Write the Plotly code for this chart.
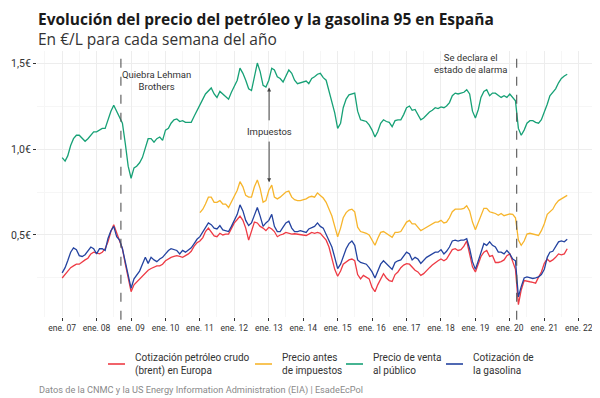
import pandas as pd
import plotly.graph_objects as go

# ---------------- data (monthly readings, EUR per litre) ----------------
start_all = "2007-01-01"
start_pretax = "2011-01-01"

venta_publico = [
    0.95, 0.93, 0.96, 1.02, 1.06, 1.08, 1.08, 1.06, 1.045, 1.06, 1.08, 1.10,
    1.10, 1.11, 1.12, 1.12, 1.17, 1.22, 1.255, 1.22, 1.18, 1.15, 1.03, 0.90,
    0.83, 0.89, 0.90, 0.92, 0.95, 1.00, 1.06, 1.06, 1.04, 1.06, 1.07, 1.05,
    1.11, 1.12, 1.15, 1.17, 1.175, 1.16, 1.165, 1.155, 1.155, 1.155, 1.19, 1.22,
    1.25, 1.29, 1.32, 1.34, 1.355, 1.32, 1.30, 1.335, 1.32, 1.31, 1.29, 1.33,
    1.37, 1.40, 1.47, 1.44, 1.40, 1.35, 1.34, 1.43, 1.50, 1.45, 1.37, 1.36,
    1.40, 1.47, 1.46, 1.42, 1.41, 1.39, 1.42, 1.46, 1.44, 1.40, 1.38, 1.385,
    1.39, 1.395, 1.38, 1.41, 1.42, 1.435, 1.44, 1.415, 1.40, 1.34, 1.28, 1.21,
    1.12, 1.15, 1.24, 1.29, 1.315, 1.32, 1.325, 1.22, 1.17, 1.165, 1.16, 1.14,
    1.11, 1.07, 1.10, 1.15, 1.17, 1.16, 1.155, 1.13, 1.165, 1.17, 1.17, 1.20,
    1.24, 1.25, 1.225, 1.23, 1.20, 1.17, 1.18, 1.20, 1.215, 1.225, 1.24, 1.235,
    1.245, 1.24, 1.25, 1.27, 1.31, 1.325, 1.32, 1.325, 1.33, 1.345, 1.32, 1.22,
    1.18, 1.23, 1.30, 1.335, 1.345, 1.31, 1.325, 1.325, 1.31, 1.30, 1.31, 1.30,
    1.32, 1.30, 1.28, 1.12, 1.08, 1.11, 1.15, 1.165, 1.165, 1.155, 1.15, 1.17,
    1.21, 1.26, 1.31, 1.33, 1.35, 1.385, 1.41, 1.425, 1.435,
]

antes_impuestos = [
    0.63, 0.65, 0.68, 0.72, 0.72, 0.69, 0.69, 0.70, 0.68, 0.68, 0.66, 0.69,
    0.73, 0.76, 0.81, 0.78, 0.73, 0.72, 0.72, 0.78, 0.82, 0.77, 0.69, 0.70,
    0.76, 0.79, 0.72, 0.71, 0.72, 0.735, 0.75, 0.755, 0.72, 0.705, 0.70, 0.70,
    0.705, 0.71, 0.72, 0.725, 0.72, 0.745, 0.73, 0.715, 0.69, 0.65, 0.61, 0.55,
    0.49, 0.54, 0.60, 0.63, 0.645, 0.65, 0.635, 0.545, 0.52, 0.515, 0.51, 0.50,
    0.47, 0.44, 0.48, 0.515, 0.52, 0.51, 0.50, 0.487, 0.515, 0.515, 0.52, 0.55,
    0.575, 0.585, 0.565, 0.565, 0.545, 0.525, 0.535, 0.545, 0.555, 0.565, 0.575, 0.575,
    0.585, 0.57, 0.575, 0.60, 0.635, 0.65, 0.65, 0.65, 0.655, 0.67, 0.64, 0.575,
    0.53, 0.57, 0.61, 0.655, 0.655, 0.635, 0.63, 0.625, 0.615, 0.625, 0.612, 0.618,
    0.622, 0.62, 0.60, 0.47, 0.44, 0.465, 0.505, 0.51, 0.507, 0.50, 0.497, 0.525,
    0.565, 0.62, 0.635, 0.65, 0.68, 0.70, 0.71, 0.72, 0.73,
]

cotizacion_gasolina = [
    0.28, 0.31, 0.35, 0.40, 0.425, 0.415, 0.38, 0.375, 0.385, 0.41, 0.43, 0.42,
    0.39, 0.42, 0.42, 0.41, 0.48, 0.525, 0.55, 0.49, 0.47, 0.42, 0.34, 0.25,
    0.19, 0.245, 0.265, 0.29, 0.33, 0.37, 0.335, 0.37, 0.355, 0.345, 0.36, 0.37,
    0.39, 0.41, 0.42, 0.415, 0.41, 0.39, 0.41, 0.40, 0.415, 0.425, 0.45, 0.475,
    0.49, 0.515, 0.545, 0.57, 0.56, 0.54, 0.535, 0.555, 0.53, 0.526, 0.52, 0.55,
    0.585, 0.62, 0.675, 0.64, 0.585, 0.555, 0.57, 0.62, 0.66, 0.61, 0.55, 0.57,
    0.585, 0.62, 0.55, 0.52, 0.52, 0.545, 0.57, 0.58, 0.54, 0.52, 0.52, 0.525,
    0.52, 0.515, 0.535, 0.545, 0.55, 0.57, 0.55, 0.54, 0.50, 0.46, 0.43, 0.37,
    0.305, 0.33, 0.37, 0.42, 0.45, 0.465, 0.44, 0.355, 0.34, 0.335, 0.33, 0.31,
    0.285, 0.25, 0.29, 0.33, 0.35, 0.335, 0.32, 0.30, 0.34, 0.35, 0.355, 0.38,
    0.40, 0.39, 0.355, 0.37, 0.36, 0.335, 0.355, 0.37, 0.38, 0.39, 0.40, 0.40,
    0.415, 0.39, 0.405, 0.43, 0.465, 0.47, 0.465, 0.47, 0.47, 0.478, 0.42, 0.345,
    0.30, 0.35, 0.40, 0.45, 0.44, 0.46, 0.44, 0.43, 0.40, 0.40, 0.39, 0.41,
    0.39, 0.36, 0.35, 0.14, 0.20, 0.25, 0.256, 0.25, 0.247, 0.25, 0.256, 0.27,
    0.30, 0.37, 0.40, 0.405, 0.43, 0.46, 0.465, 0.46, 0.475,
]

brent = [
    0.25, 0.27, 0.29, 0.31, 0.32, 0.33, 0.33, 0.34, 0.355, 0.365, 0.39, 0.40,
    0.395, 0.39, 0.40, 0.42, 0.46, 0.52, 0.56, 0.51, 0.47, 0.42, 0.33, 0.24,
    0.17, 0.21, 0.225, 0.245, 0.26, 0.28, 0.295, 0.305, 0.315, 0.32, 0.32, 0.33,
    0.35, 0.36, 0.37, 0.375, 0.38, 0.375, 0.37, 0.38, 0.39, 0.405, 0.435, 0.455,
    0.465, 0.485, 0.52, 0.54, 0.52, 0.495, 0.49, 0.51, 0.50, 0.505, 0.505, 0.54,
    0.57, 0.59, 0.61, 0.585, 0.54, 0.47, 0.52, 0.575, 0.57, 0.55, 0.54, 0.525,
    0.545, 0.535, 0.52, 0.49, 0.50, 0.505, 0.515, 0.51, 0.505, 0.507, 0.505, 0.50,
    0.50, 0.497, 0.505, 0.515, 0.51, 0.515, 0.51, 0.49, 0.47, 0.43, 0.37, 0.30,
    0.26, 0.29, 0.33, 0.345, 0.355, 0.36, 0.35, 0.27, 0.245, 0.265, 0.255, 0.245,
    0.195, 0.17, 0.21, 0.245, 0.275, 0.25, 0.235, 0.23, 0.27, 0.285, 0.31, 0.325,
    0.333, 0.33, 0.31, 0.295, 0.285, 0.265, 0.275, 0.295, 0.31, 0.325, 0.34, 0.35,
    0.36, 0.35, 0.36, 0.385, 0.415, 0.42, 0.41, 0.415, 0.435, 0.465, 0.39, 0.315,
    0.285, 0.335, 0.375, 0.40, 0.41, 0.375, 0.38, 0.34, 0.34, 0.345, 0.355, 0.38,
    0.39, 0.345, 0.30, 0.095, 0.18, 0.235, 0.23, 0.228, 0.225, 0.22, 0.255, 0.285,
    0.335, 0.36, 0.345, 0.355, 0.37, 0.39, 0.385, 0.39, 0.42,
]

series_names = [
    "Cotización petróleo crudo<br>(brent) en Europa",
    "Precio antes<br>de impuestos",
    "Precio de venta<br>al público",
    "Cotización de<br>la gasolina",
]

year_ticks = pd.date_range("2007-01-01", "2022-01-01", freq="YS")
year_labels = ["ene. %02d" % (d.year % 100) for d in year_ticks]
y_ticks = [0.5, 1.0, 1.5]
y_labels = ["0,5€", "1,0€", "1,5€"]

lehman_date = "2008-09-15"
alarma_date = "2020-03-14"

fechas = pd.date_range(start_all, periods=len(venta_publico), freq="MS")
fechas_pre = pd.date_range(start_pretax, periods=len(antes_impuestos), freq="MS")

# ---------------- figure ----------------
RED, YEL, GRN, BLU = "#EE3B45", "#F7B52C", "#17A176", "#2443A0"
COLORS = [RED, YEL, GRN, BLU]
FONT = "Roboto"

# the page body adds an 8px offset; size and place the figure so that
# content lands at the intended page coordinates
OFF = 8
W, H = 600 - OFF, 398 - OFF
PLOT_L, PLOT_R, PLOT_T, PLOT_B = 37, 594, 51, 317   # page pixels
ML = PLOT_L - OFF
MT = PLOT_T - OFF
MR = W - (PLOT_R - OFF)
MB = H - (PLOT_B - OFF)
PW, PH = W - ML - MR, H - MT - MB


def px_x(px):
    return (px - PLOT_L) / PW


def px_y(py):
    return (PLOT_B - py) / PH


fig = go.Figure()
fig.add_trace(go.Scatter(x=fechas_pre, y=antes_impuestos, mode="lines",
                         line=dict(color=YEL, width=1.3), name=series_names[1]))
fig.add_trace(go.Scatter(x=fechas, y=venta_publico, mode="lines",
                         line=dict(color=GRN, width=1.3), name=series_names[2]))
fig.add_trace(go.Scatter(x=fechas, y=brent, mode="lines",
                         line=dict(color=RED, width=1.3), name=series_names[0]))
fig.add_trace(go.Scatter(x=fechas, y=cotizacion_gasolina, mode="lines",
                         line=dict(color=BLU, width=1.3), name=series_names[3]))

for d in (lehman_date, alarma_date):
    fig.add_shape(type="line", xref="x", yref="paper", x0=d, x1=d, y0=-0.01, y1=0.995,
                  line=dict(color="#555555", width=1.1, dash="dash"))

ann_font = dict(family=FONT, size=9.5, color="#333333")
fig.add_annotation(x="2009-10-01", y=1.40, xref="x", yref="y",
                   text="Quiebra Lehman<br>Brothers", showarrow=False, font=ann_font)
fig.add_annotation(x="2018-11-06", y=1.50, xref="x", yref="y",
                   text="Se declara el<br>estado de alarma", showarrow=False, font=ann_font)
fig.add_annotation(x="2013-01-04", y=1.10, xref="x", yref="y",
                   text="Impuestos", showarrow=False, font=ann_font)
fig.add_annotation(x="2013-01-04", y=1.357, ax="2013-01-04", ay=1.158,
                   xref="x", yref="y", axref="x", ayref="y", text="",
                   showarrow=True, arrowhead=2, arrowsize=0.8, arrowwidth=1, arrowcolor="#444444")
fig.add_annotation(x="2013-01-04", y=0.806, ax="2013-01-04", ay=1.052,
                   xref="x", yref="y", axref="x", ayref="y", text="",
                   showarrow=True, arrowhead=2, arrowsize=0.8, arrowwidth=1, arrowcolor="#444444")

# title, subtitle, caption
fig.add_annotation(xref="paper", yref="paper", x=px_x(37), y=px_y(18.5), xanchor="left", yanchor="middle",
                   text="<b>Evolución del precio del petróleo y la gasolina 95 en España</b>", borderpad=0,
                   showarrow=False, font=dict(family="Open Sans", size=15.5, color="#1a1a1a"))
fig.add_annotation(xref="paper", yref="paper", x=px_x(37), y=px_y(39), xanchor="left", yanchor="middle",
                   text="En €/L para cada semana del año", borderpad=0,
                   showarrow=False, font=dict(family="Open Sans", size=15.5, color="#333333"))
fig.add_annotation(xref="paper", yref="paper", x=px_x(37), y=px_y(390), xanchor="left", yanchor="middle",
                   text="Datos de la CNMC y la US Energy Information Administration (EIA) | EsadeEcPol",
                   showarrow=False, font=dict(family=FONT, size=9.2, color="#8a8a8a"))

# manual legend (line key + two-line label)
leg_line_x = [(108, 125), (255, 272), (346, 363), (446, 463)]
leg_text_x = [133, 280, 371, 471]
leg_y = 364
for (x0, x1), tx, col, name in zip(leg_line_x, leg_text_x, COLORS, series_names):
    fig.add_shape(type="line", xref="paper", yref="paper", x0=px_x(x0), x1=px_x(x1),
                  y0=px_y(leg_y), y1=px_y(leg_y), line=dict(color=col, width=1.6))
    fig.add_annotation(xref="paper", yref="paper", x=px_x(tx), y=px_y(leg_y), xanchor="left",
                       yanchor="middle", align="left", text=name, showarrow=False,
                       font=dict(family=FONT, size=10, color="#333333"))

fig.update_layout(
    width=W, height=H,
    margin=dict(l=ML, r=MR, t=MT, b=MB, autoexpand=False),
    paper_bgcolor="white", plot_bgcolor="white",
    font=dict(family=FONT, size=10, color="#333333"),
    showlegend=False,
    xaxis=dict(type="date", range=["2006-04-09", "2022-06-12"],
               tickvals=year_ticks, ticktext=year_labels,
               ticks="outside", ticklen=3, tickcolor="#333333", tickwidth=1,
               tickfont=dict(family=FONT, size=8.5, color="#333333"),
               showgrid=True, gridcolor="#EDEDED", gridwidth=0.8,
               minor=dict(dtick="M6", tick0="2007-01-01", showgrid=True, gridcolor="#F6F6F6", gridwidth=0.6),
               zeroline=False, showline=False),
    yaxis=dict(range=[0.023, 1.57], tickvals=y_ticks, ticktext=y_labels,
               ticks="outside", ticklen=3, tickcolor="#333333", tickwidth=1,
               tickfont=dict(family=FONT, size=10.5, color="#333333"),
               showgrid=True, gridcolor="#EDEDED", gridwidth=0.8,
               minor=dict(dtick=0.25, tick0=0, showgrid=True, gridcolor="#F6F6F6", gridwidth=0.6),
               zeroline=False, showline=False),
)

fig.write_html("out.html")
